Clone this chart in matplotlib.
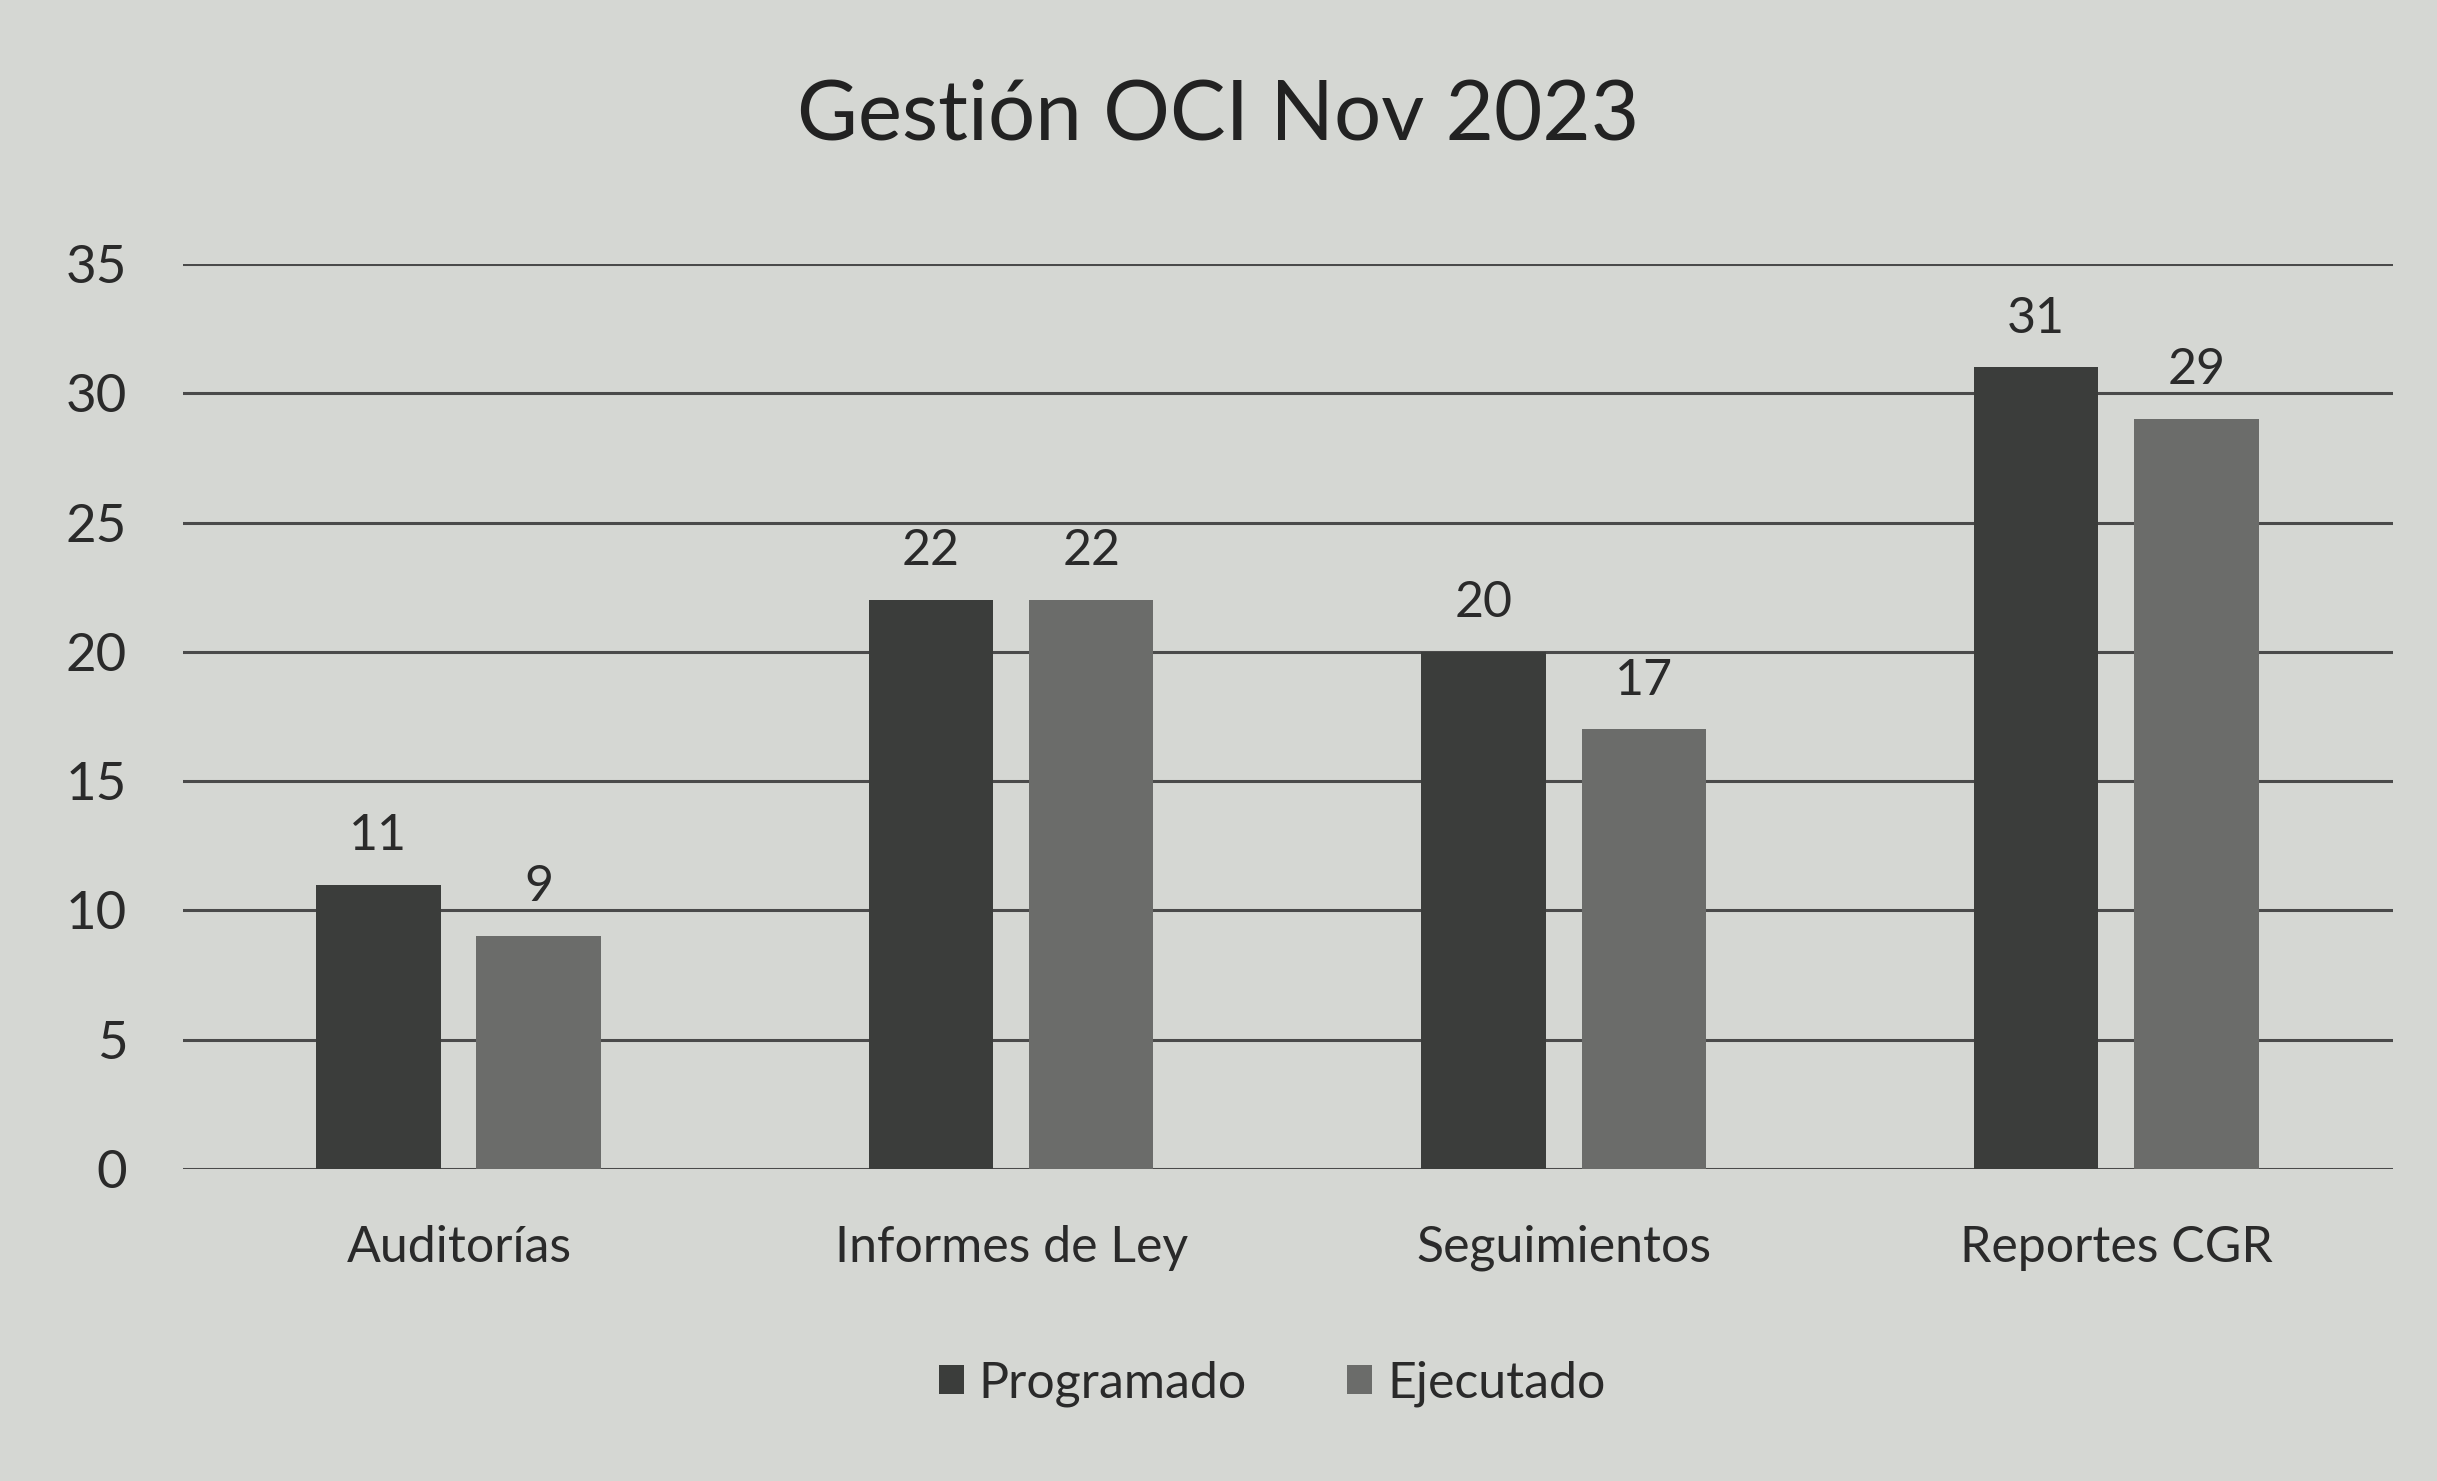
import numpy as np
import matplotlib.pyplot as plt

categories = ['Auditorías', 'Informes de Ley', 'Seguimientos', 'Reportes CGR']
programado = [11, 22, 20, 31]
ejecutado = [9, 22, 17, 29]
yticks = [0, 5, 10, 15, 20, 25, 30, 35]

bg = '#d5d7d3'
c_prog = '#3b3d3b'
c_ejec = '#6b6c6a'

plt.rcParams['font.family'] = ['Lato', 'DejaVu Sans']

fig = plt.figure(figsize=(24.37, 14.81), dpi=100, facecolor=bg)
ax = fig.add_axes([0.075, 0.2107, 0.907, 0.611], facecolor=bg)

x = np.arange(len(categories))
w = 0.225
b1 = ax.bar(x - 0.146, programado, w, color=c_prog, label='Programado', zorder=3)
b2 = ax.bar(x + 0.144, ejecutado, w, color=c_ejec, label='Ejecutado', zorder=3)

for bars in (b1, b2):
    for rect in bars:
        h = rect.get_height()
        ax.text(rect.get_x() + rect.get_width() / 2, h + 1.0, f'{h:.0f}',
                ha='center', va='bottom', fontsize=36, color='#2a2a2a')

ax.set_xlim(-0.5, 3.5)
ax.set_ylim(0, 35)
ax.set_yticks(yticks)
ax.set_xticks(x)
ax.set_xticklabels(categories)
ax.tick_params(axis='y', length=0, pad=40, labelsize=38, labelcolor='#2a2a2a')
ax.tick_params(axis='x', length=0, pad=40, labelsize=36, labelcolor='#2a2a2a')
ax.grid(axis='y', color='#4a4a4a', linewidth=2.2, zorder=0)
for s in ax.spines.values():
    s.set_visible(False)

fig.text(0.5, 0.921, 'Gestión OCI Nov 2023', ha='center', va='center',
         fontsize=60, color='#222222')

fig.legend(loc='center', bbox_to_anchor=(0.522, 0.066), ncol=2, frameon=False,
           fontsize=36, handlelength=0.5, handleheight=0.5, handletextpad=0.3,
           columnspacing=2.0, labelcolor='#2a2a2a')

fig.savefig('out.png', dpi=100, facecolor=bg)
